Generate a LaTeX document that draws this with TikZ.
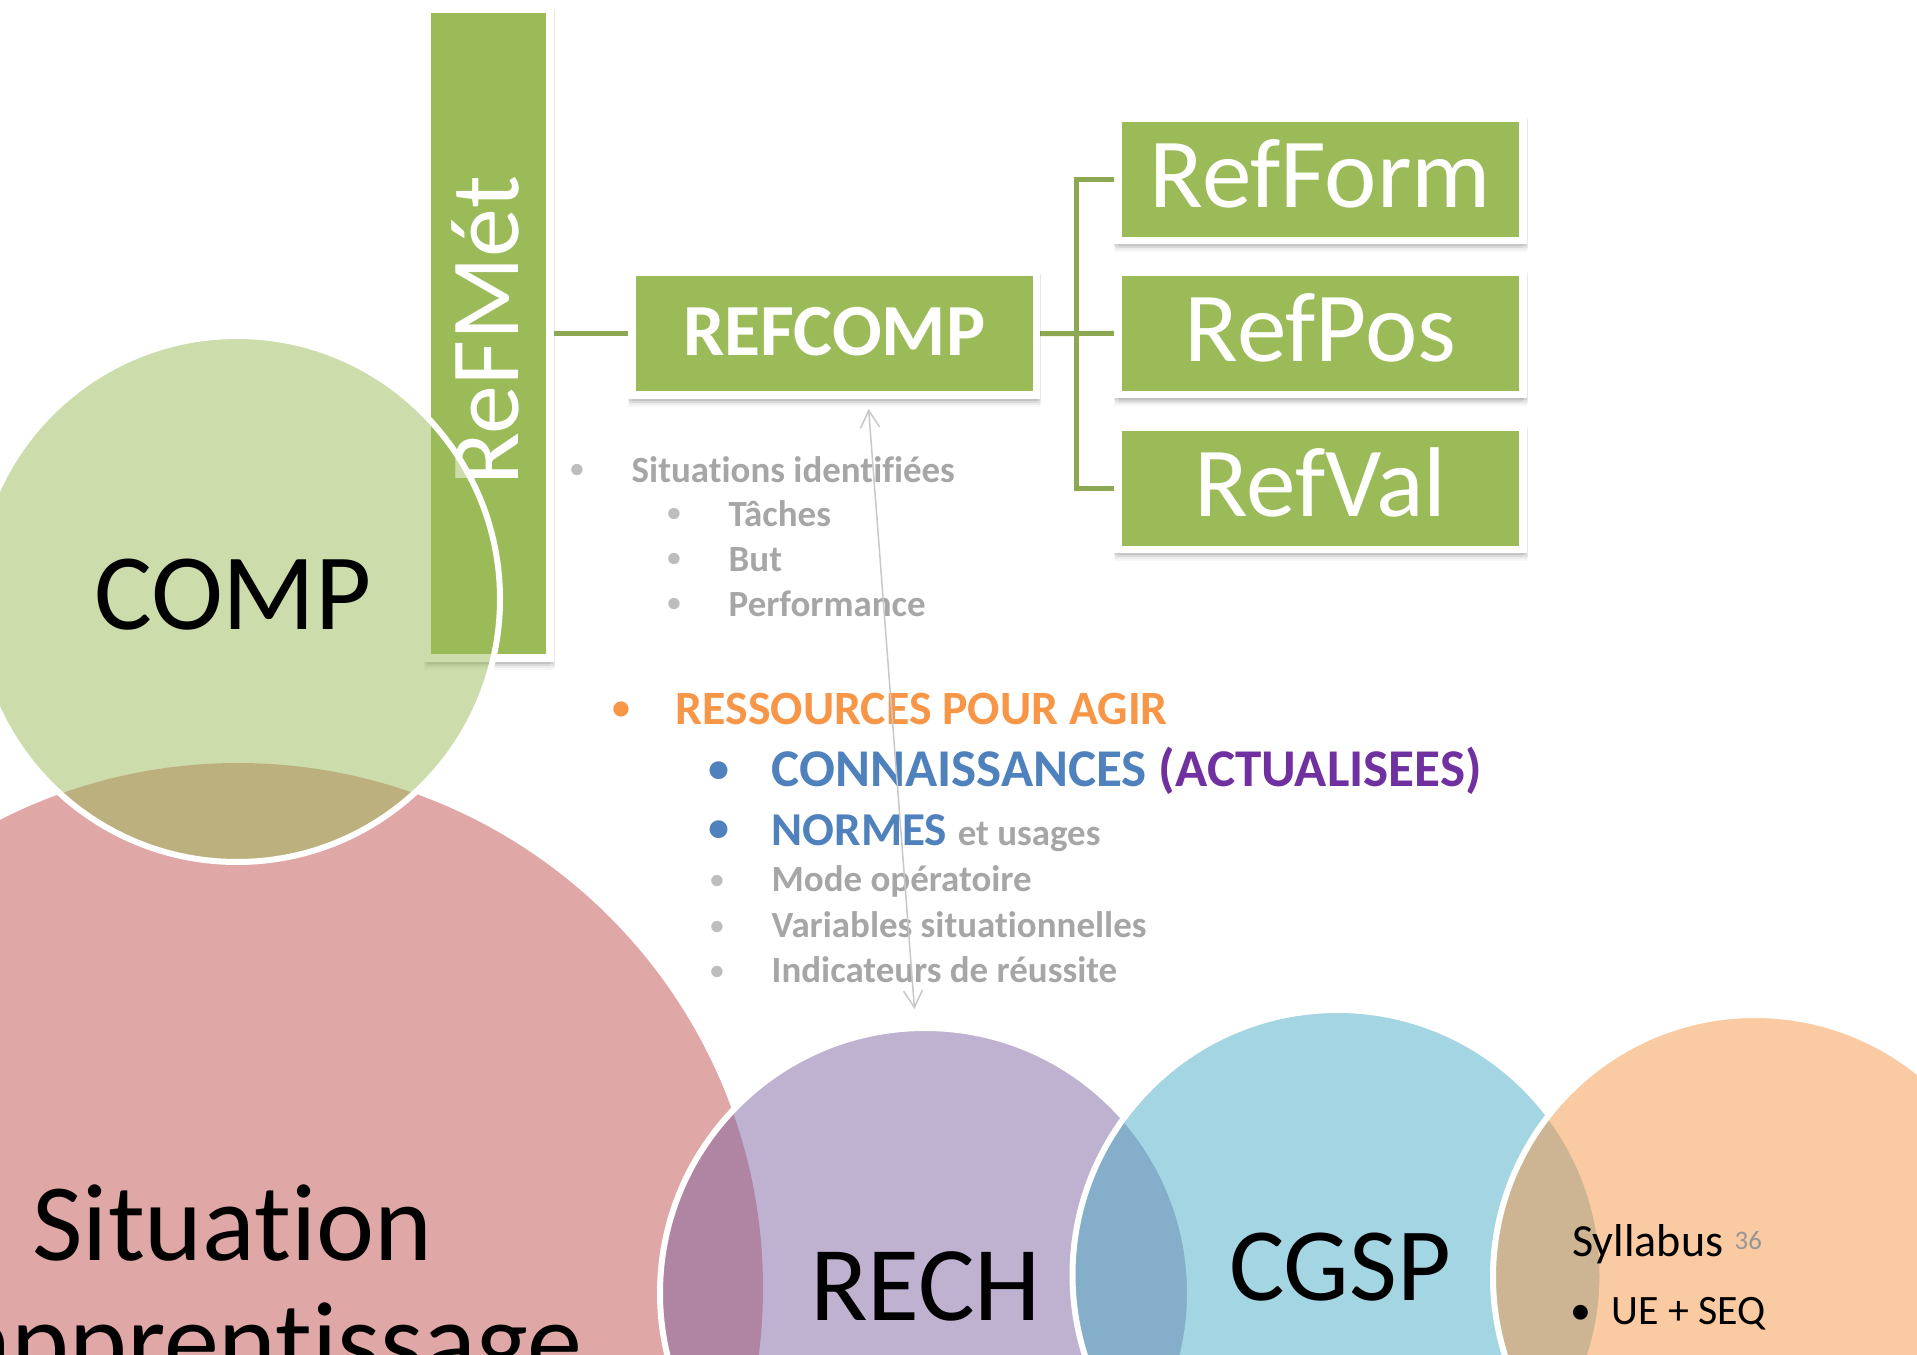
\documentclass[tikz,border=0pt]{standalone}
\usepackage{fontspec}
\setmainfont{Carlito}[Ligatures=NoCommon]
\usetikzlibrary{arrows.meta}
\definecolor{G}{HTML}{9BBB59}
\definecolor{Gline}{RGB}{140,168,82}
\definecolor{Rd}{HTML}{C0504D}
\definecolor{Pu}{HTML}{8064A2}
\definecolor{Aq}{HTML}{4BACC6}
\definecolor{Or}{HTML}{F79646}
\definecolor{Gy}{HTML}{A6A6A6}
\definecolor{GyB}{HTML}{BDBDBD}
\definecolor{Bl}{HTML}{4F81BD}
\definecolor{Vi}{HTML}{7030A0}
\definecolor{ArrC}{RGB}{200,200,200}
\definecolor{NumC}{RGB}{150,150,150}
\newcommand\fsz[1]{\fontsize{#1}{#1}\selectfont}
\begin{document}
\begin{tikzpicture}[x=0.01cm, y=0.01cm,
  gbox/.style={rectangle, inner sep=0pt, fill=G, draw=white, line width=0.075cm, text=white,
    preaction={fill=black, fill opacity=0.03, draw=black, draw opacity=0.03, transform canvas={yshift=-0.08cm}},
    preaction={fill=black, fill opacity=0.04, draw=black, draw opacity=0.04, transform canvas={yshift=-0.06cm, xshift=0.01cm}},
    preaction={fill=black, fill opacity=0.05, draw=black, draw opacity=0.05, transform canvas={yshift=-0.04cm, xshift=0.01cm}},
    preaction={fill=black, fill opacity=0.06, draw=black, draw opacity=0.06, transform canvas={yshift=-0.02cm}}},
  hbox/.style={gbox, minimum width=4.05cm, minimum height=1.225cm},
  reftxt/.style={font=\fsz{28.2pt}, text height=0.6cm, text depth=0.03cm},
  conn/.style={draw=Gline, line width=0.05cm},
  venn/.style={fill opacity=0.5},
  vline/.style={draw=white, line width=0.06cm},
  lbl/.style={anchor=base, inner sep=0pt, text=black},
  gtxt/.style={anchor=base west, inner sep=0pt, text=Gy, font=\bfseries\fsz{10.5pt}},
  gbul/.style={anchor=base, inner sep=0pt, text=GyB, font=\bfseries\fsz{7.6pt}},
  arrowc/.style={draw=ArrC, line width=0.015cm, arrows={Straight Barb[length=0.17cm, width=0.19cm]-Straight Barb[length=0.17cm, width=0.19cm]}}
]
\useasboundingbox (0,0) rectangle (1917,-1355);
\fill[white] (0,0) rectangle (1917,-1355);

% vertical bar ReFMet
\node[gbox, minimum width=1.225cm, minimum height=6.49cm] (refmet) at (488.75,-333.5) {};
\node[rotate=90, anchor=base, inner sep=0pt, text=white, font=\fsz{27.8pt}] (refmettxt) at (518,-331) {ReFMét};

% Venn circles
\fill[Rd, venn] (238,-1288) circle[radius=525];
\fill[G, venn] (237,-599) circle[radius=263];
\draw[vline] (237,-599) circle[radius=263];
\fill[Pu, venn] (925,-1293) circle[radius=265];
\begin{scope}
  \clip (-100,100) rectangle (2100,-1500) (1337.5,-1275) circle[radius=265];
  \draw[vline] (925,-1293) circle[radius=265];
\end{scope}
\fill[Aq, venn] (1337.5,-1275) circle[radius=265];
\begin{scope}
  \clip (-100,100) rectangle (2100,-1500) (1755,-1277) circle[radius=262];
  \draw[vline] (1337.5,-1275) circle[radius=265];
\end{scope}
\fill[Or, venn] (1755,-1277) circle[radius=262];
\draw[vline] (1755,-1277) circle[radius=262];

% hierarchy: connectors first, boxes on top
\coordinate (trunk) at (1076.7,-333.3);
\coordinate (refcompW) at (632,-333.75);
\coordinate (refcompE) at (1036.5,-333.75);
\coordinate (refformW) at (1118,-179.2);
\coordinate (refposW) at (1118,-333.3);
\coordinate (refvalW) at (1118,-488.2);
\draw[conn] (refmet.east |- refcompW) -- (refcompW);
\draw[conn] (refcompE) -- (refposW);
\draw[conn] (refformW) -| (trunk) |- (refvalW);
\node[hbox, minimum width=4.045cm, font=\bfseries\fsz{20.9pt}, text height=0.47cm, text depth=0.044cm] (refcomp) at (834.25,-333.75) {REFCOMP};
\node[hbox, reftxt] (refform) at (1320.5,-179.2) {RefForm};
\node[hbox, reftxt] (refpos) at (1320.5,-333.3) {RefPos};
\node[hbox, reftxt] (refval) at (1320.5,-488.2) {RefVal};

% text list
\node[gbul] (b1) at (577,-478) {•};
\node[gtxt] (t1) at (631,-483) {Situations identifiées};
\node[gbul] (b2) at (674,-522) {•};
\node[gtxt] (t2) at (728,-527) {Tâches};
\node[gbul] (b3) at (674,-567) {•};
\node[gtxt] (t3) at (728,-572) {But};
\node[gbul] (b4) at (674,-612) {•};
\node[gtxt] (t4) at (728,-617) {Performance};
\node[anchor=base, inner sep=0pt, text=Or, font=\bfseries\fsz{10.2pt}] (b5) at (621,-720) {•};
\node[anchor=base west, inner sep=0pt, text=Or, font=\bfseries\fsz{13.6pt}] (t5) at (675,-725) {RESSOURCES POUR AGIR};
\node[anchor=base, inner sep=0pt, text=Bl, font=\bfseries\fsz{12pt}] (b6) at (719,-782.5) {•};
\node[anchor=base west, inner sep=0pt, font=\bfseries\fsz{15.1pt}] (t6) at (771,-787) {\textcolor{Bl}{CONNAISSANCES} \textcolor{Vi}{(ACTUALISEES)}};
\node[anchor=base, inner sep=0pt, text=Bl, font=\bfseries\fsz{12pt}] (b7) at (719,-842) {•};
\node[anchor=base west, inner sep=0pt, font=\bfseries\fsz{13.4pt}] (t7) at (771,-846) {\textcolor{Bl}{NORMES} {\fsz{10.5pt}\textcolor{Gy}{et usages}}};
\node[gbul] (b8) at (717,-889) {•};
\node[gtxt] (t8) at (771,-892) {Mode opératoire};
\node[gbul] (b9) at (717,-935) {•};
\node[gtxt] (t9) at (771,-938) {Variables situationnelles};
\node[gbul] (b10) at (717,-979) {•};
\node[gtxt] (t10) at (771,-982) {Indicateurs de réussite};

% double arrow
\coordinate (a1) at (868.6,-409);
\coordinate (a2) at (914.5,-1009);
\draw[arrowc] (a1) -- (a2);

% circle labels
\node[lbl, font=\fsz{30.9pt}] (comp) at (233,-629.5) {COMP};
\node[lbl, font=\fsz{31.3pt}] (sit1) at (232.5,-1260) {Situation};
\node[anchor=base east, inner sep=0pt, font=\fsz{31.3pt}] (sit2) at (583,-1378) {apprentissage};
\node[lbl, font=\fsz{30.2pt}] (rech) at (925.6,-1320.7) {RECH};
\node[lbl, font=\fsz{29.6pt}] (cgsp) at (1340,-1300) {CGSP};
\node[anchor=base west, inner sep=0pt, font=\fsz{13.1pt}] (syl) at (1571.5,-1256.7) {Syllabus};
\node[anchor=base west, inner sep=0pt, text=NumC, font=\fsz{7.6pt}] (num) at (1734,-1249) {36};
\node[anchor=base, inner sep=0pt, font=\fsz{11.9pt}] (b11) at (1581,-1324) {•};
\node[anchor=base west, inner sep=0pt, font=\fsz{11.9pt}] (ue) at (1611,-1324) {UE + SEQ};
\end{tikzpicture}
\end{document}
